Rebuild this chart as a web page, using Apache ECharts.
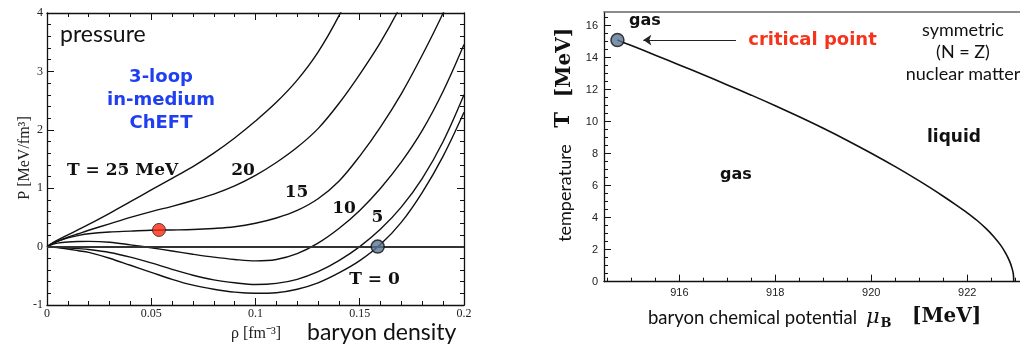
<!DOCTYPE html>
<html><head><meta charset="utf-8">
<script src="https://cdn.jsdelivr.net/npm/echarts@6/dist/echarts.min.js"></script>
<style>html,body{margin:0;padding:0;background:#fff}#c{width:1020px;height:347px}</style>
</head><body><div id="c"></div><script>
// ---------- Left panel: pressure isotherms ----------
const rho = [0, 0.0025, 0.005, 0.01, 0.015, 0.02, 0.03, 0.04, 0.05, 0.06, 0.07, 0.08, 0.09, 0.10, 0.11, 0.12, 0.13, 0.14, 0.15, 0.16, 0.17, 0.18, 0.19, 0.20];
const P_T25 = [0, 0.06, 0.11, 0.2, 0.29, 0.38, 0.57, 0.77, 0.97, 1.17, 1.37, 1.6, 1.86, 2.15, 2.47, 2.85, 3.33, 3.95, 4.7];
const P_T20 = [0, 0.05, 0.09, 0.16, 0.22, 0.28, 0.39, 0.5, 0.6, 0.69, 0.79, 0.9, 1.04, 1.22, 1.44, 1.7, 2.02, 2.45, 2.95, 3.5, 4.15, 4.9];
const P_T15 = [0, 0.05, 0.09, 0.15, 0.19, 0.22, 0.25, 0.265, 0.28, 0.285, 0.292, 0.31, 0.34, 0.4, 0.49, 0.62, 0.82, 1.12, 1.55, 2.05, 2.62, 3.28, 4.0, 4.8];
const P_T10 = [0, 0.035, 0.06, 0.08, 0.088, 0.09, 0.075, 0.03, -0.02, -0.075, -0.13, -0.18, -0.22, -0.245, -0.22, -0.12, 0.06, 0.31, 0.62, 1.0, 1.45, 1.99, 2.66, 3.46];
const P_T5  = [0, -0.003, -0.008, -0.02, -0.035, -0.05, -0.1, -0.18, -0.28, -0.39, -0.49, -0.57, -0.62, -0.65, -0.63, -0.56, -0.43, -0.24, 0.0, 0.3, 0.68, 1.17, 1.8, 2.6];
const P_T0  = [0, -0.008, -0.018, -0.04, -0.07, -0.1, -0.2, -0.32, -0.44, -0.56, -0.66, -0.73, -0.78, -0.8, -0.79, -0.73, -0.62, -0.45, -0.24, 0.04, 0.42, 0.93, 1.55, 2.3];
const critPointLeft = [0.0537, 0.285];
const saturationPoint = [0.1586, 0];

// ---------- Right panel: liquid-gas coexistence line ----------
const muB = [914.71, 915, 915.5, 916, 916.5, 917, 917.5, 918, 918.5, 919, 919.5, 920, 920.5, 921, 921.25, 921.5, 921.75, 922, 922.2, 922.4, 922.55, 922.7, 922.8, 922.88, 922.93, 922.96, 922.97];
const Tcoex = [15.1, 14.76, 14.16, 13.55, 12.93, 12.3, 11.66, 11.0, 10.31, 9.59, 8.83, 8.03, 7.19, 6.3, 5.83, 5.34, 4.83, 4.3, 3.84, 3.3, 2.83, 2.27, 1.78, 1.3, 0.88, 0.5, 0.0];
const critPointRight = [914.71, 15.1];
const arrowFrom = [917.18, 15.1];
const arrowTo = [915.25, 15.1];
const muTicks = [916, 918, 920, 922];
const muMinorTicks = [914.5, 915, 915.5, 916, 916.5, 917, 917.5, 918, 918.5, 919, 919.5, 920, 920.5, 921, 921.5, 922, 922.5, 923];
const tTicks = [0, 2, 4, 6, 8, 10, 12, 14, 16];
const tMinorTicks = [];
for (let v = 0; v <= 16.5; v += 0.5) tMinorTicks.push(v);

const toPairs = (xs, ys) => ys.map((y, i) => [xs[i], y]);

const chart = echarts.init(document.getElementById('c'), null, {renderer: 'canvas'});
const black = '#111';
const axLine = {show: true, onZero: false, lineStyle: {color: black, width: 1.3}};
const tickIn = {show: true, inside: true, length: 7, lineStyle: {color: black, width: 1}};
const minorIn = {show: true, splitNumber: 5, length: 4, lineStyle: {color: black, width: 1}};
const serifLbl = {fontFamily: 'Liberation Serif', fontSize: 12, color: '#222'};
const sansLbl = {fontFamily: 'Liberation Sans', fontSize: 11, color: '#222'};
const noLbl = {show: false};
const noSplit = {show: false};

const curveStyle = {color: black, width: 1.4};
function curve(vals) {
  return {type: 'line', xAxisIndex: 0, yAxisIndex: 0, data: toPairs(rho, vals), showSymbol: false,
    smooth: 0.35, lineStyle: curveStyle, itemStyle: {color: black}, silent: true, z: 3};
}

function txt(text, x, y, font, opts) {
  opts = opts || {};
  return {type: 'text', x: x, y: y, rotation: opts.rot || 0, z: 100,
    style: {text: text, font: font, fill: opts.fill || '#111', align: opts.align || 'center',
      verticalAlign: 'middle', lineHeight: opts.lh}};
}
const R = Math.PI / 2;

const option = {
  animation: false,
  backgroundColor: '#fff',
  grid: [
    {left: 47, top: 13, width: 417, height: 292},
    {left: 604, top: 12.1, width: 418, height: 269.6}
  ],
  xAxis: [
    {gridIndex: 0, type: 'value', position: 'bottom', min: 0, max: 0.2, interval: 0.05,
      axisLine: axLine, axisTick: tickIn, minorTick: minorIn, splitLine: noSplit, minorSplitLine: noSplit,
      axisLabel: Object.assign({margin: 3, formatter: v => String(Math.round(v * 100) / 100)}, serifLbl)},
    {gridIndex: 0, type: 'value', position: 'top', min: 0, max: 0.2, interval: 0.05,
      axisLine: axLine, axisTick: tickIn, minorTick: minorIn, splitLine: noSplit, axisLabel: noLbl},
    {gridIndex: 1, type: 'value', position: 'bottom', min: 914.43, max: 923.1,
      axisLine: axLine, axisTick: Object.assign({customValues: muTicks}, tickIn), splitLine: noSplit,
      axisLabel: Object.assign({customValues: muTicks, margin: 6}, sansLbl)},
    {gridIndex: 1, type: 'value', position: 'bottom', min: 914.43, max: 923.1,
      axisLine: {show: false, onZero: false}, axisTick: {show: true, inside: true, length: 4, customValues: muMinorTicks, lineStyle: {color: black}},
      splitLine: noSplit, axisLabel: noLbl},
    {gridIndex: 1, type: 'value', position: 'top', min: 914.43, max: 923.1,
      axisLine: {show: true, onZero: false, lineStyle: {color: '#666', width: 1.5}}, axisTick: {show: false}, splitLine: noSplit, axisLabel: noLbl}
  ],
  yAxis: [
    {gridIndex: 0, type: 'value', position: 'left', min: -1, max: 4, interval: 1,
      axisLine: axLine, axisTick: tickIn, minorTick: minorIn, splitLine: noSplit, minorSplitLine: noSplit,
      axisLabel: Object.assign({margin: 4}, serifLbl)},
    {gridIndex: 0, type: 'value', position: 'right', min: -1, max: 4, interval: 1,
      axisLine: axLine, axisTick: tickIn, minorTick: minorIn, splitLine: noSplit, axisLabel: noLbl},
    {gridIndex: 1, type: 'value', position: 'left', min: 0, max: 16.85,
      axisLine: axLine, axisTick: Object.assign({customValues: tTicks}, tickIn), splitLine: noSplit,
      axisLabel: Object.assign({customValues: tTicks, margin: 6}, sansLbl)},
    {gridIndex: 1, type: 'value', position: 'left', min: 0, max: 16.85,
      axisLine: {show: false, onZero: false}, axisTick: {show: true, inside: true, length: 4, customValues: tMinorTicks, lineStyle: {color: black}},
      splitLine: noSplit, axisLabel: noLbl}
  ],
  series: [
    Object.assign(curve(P_T25), {name: 'T=25'}),
    Object.assign(curve(P_T20), {name: 'T=20'}),
    Object.assign(curve(P_T15), {name: 'T=15'}),
    Object.assign(curve(P_T10), {name: 'T=10'}),
    Object.assign(curve(P_T5), {name: 'T=5'}),
    Object.assign(curve(P_T0), {name: 'T=0',
      markLine: {silent: true, symbol: 'none', label: {show: false},
        lineStyle: {color: '#333', width: 2.2, type: 'solid'}, data: [{yAxis: 0}]}}),
    {type: 'scatter', xAxisIndex: 0, yAxisIndex: 0, data: [critPointLeft], symbolSize: 13, z: 10,
      itemStyle: {color: '#ff2a10', borderColor: '#222', borderWidth: 1}, silent: true},
    {type: 'scatter', xAxisIndex: 0, yAxisIndex: 0, data: [saturationPoint], symbolSize: 13, z: 10,
      itemStyle: {color: '#5a7493', borderColor: '#111', borderWidth: 1.5}, silent: true},
    {type: 'line', xAxisIndex: 2, yAxisIndex: 2, data: toPairs(muB, Tcoex), showSymbol: false,
      smooth: 0.3, lineStyle: {color: black, width: 1.6}, silent: true, z: 3},
    {type: 'scatter', xAxisIndex: 2, yAxisIndex: 2, data: [critPointRight], symbolSize: 13, z: 10,
      itemStyle: {color: '#5b7595', borderColor: '#111', borderWidth: 1.5}, silent: true,
      markLine: {silent: true, symbol: ['none', 'arrow'], symbolSize: 8, label: {show: false},
        lineStyle: {color: '#222', width: 1, type: 'solid'},
        data: [[{coord: arrowFrom}, {coord: arrowTo}]]}}
  ],
  graphic: [
    txt('pressure', 60, 35, '23px Lato', {align: 'left'}),
    txt('3-loop\nin-medium\nChEFT', 161, 100, 'bold 18px "DejaVu Sans"', {fill: '#1f3ff0', lh: 23}),
    txt('T = 25 MeV', 67, 171, 'bold 17px "DejaVu Serif"', {align: 'left'}),
    txt('20', 243, 171, 'bold 17px "DejaVu Serif"'),
    txt('15', 296.5, 193, 'bold 17px "DejaVu Serif"'),
    txt('10', 344, 209, 'bold 17px "DejaVu Serif"'),
    txt('5', 377.5, 218, 'bold 17px "DejaVu Serif"'),
    txt('T = 0', 374.5, 280, 'bold 17px "DejaVu Serif"'),
    txt('P [MeV/fm³]', 25, 158, '16px "Liberation Serif"', {rot: R, fill: '#222'}),
    txt('ρ [fm⁻³]', 256, 334, '16px "Liberation Serif"', {fill: '#222'}),
    txt('baryon density', 307, 333, '23px Lato', {align: 'left'}),

    txt('gas', 645, 21, 'bold 16px "DejaVu Sans"'),
    txt('critical point', 812.5, 40, 'bold 18px "DejaVu Sans"', {fill: '#f4341c'}),
    txt('symmetric\n(N = Z)\nnuclear matter', 963, 52, '18px Lato', {lh: 22}),
    txt('liquid', 954, 138, 'bold 17px "DejaVu Sans"'),
    txt('gas', 736, 175, 'bold 16px "DejaVu Sans"'),
    txt('baryon chemical potential', 648, 318, '18.5px Lato', {align: 'left'}),
    txt('μ', 866, 318, 'italic 21px "DejaVu Serif"', {align: 'left'}),
    txt('B', 880.5, 324, 'bold 13px "DejaVu Serif"', {align: 'left'}),
    txt('[MeV]', 912, 317, 'bold 20px "DejaVu Serif"', {align: 'left'}),
    txt('temperature', 565, 193, '18px Lato', {rot: R}),
    txt('T', 564, 120, 'bold 21px "DejaVu Serif"', {rot: R}),
    txt('[MeV]', 565, 62.5, 'bold 20px "DejaVu Serif"', {rot: R})
  ]
};
chart.setOption(option);
</script></body></html>
